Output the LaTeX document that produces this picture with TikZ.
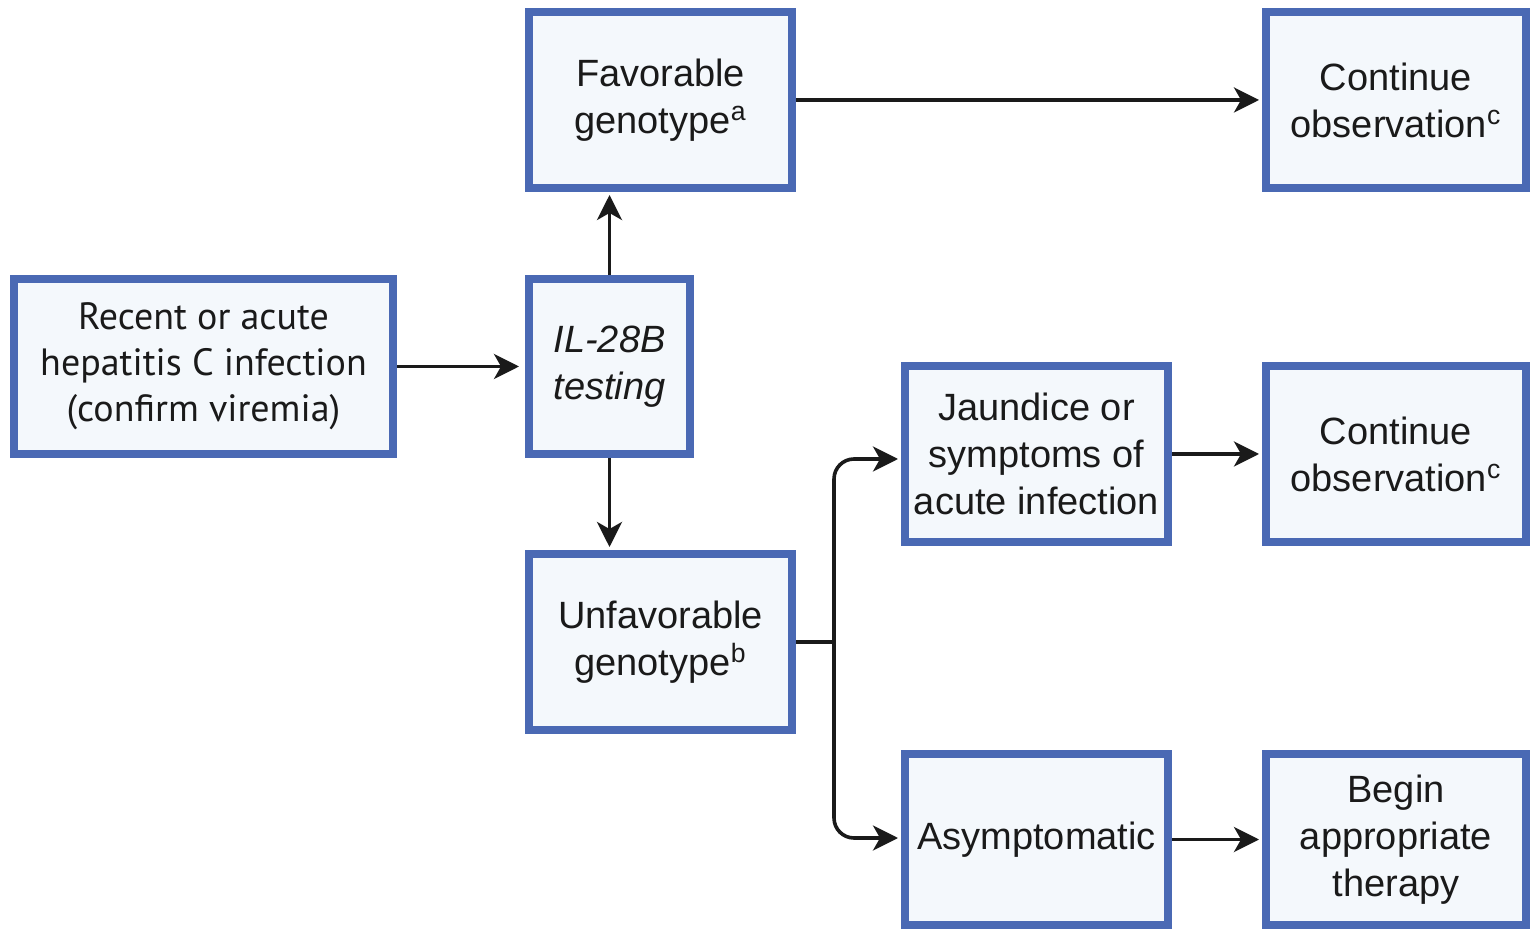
\documentclass[tikz,border=0pt]{standalone}
\usepackage{fontspec}
\setmainfont{Liberation Sans}
\newfontfamily\myriad{PT Sans}
\usetikzlibrary{arrows.meta,calc}
\definecolor{bblue}{HTML}{4A69B4}
\definecolor{bfill}{HTML}{F4F8FC}
\definecolor{ink}{HTML}{1A1A1A}
\begin{document}
\begin{tikzpicture}[x=0.5pt,y=-0.5pt,
  box/.style={draw=bblue,fill=bfill,line width=4pt,inner sep=0pt,align=center,text=ink,
    font=\fontsize{19}{23.5}\selectfont},
  wbox/.style={box,minimum width=131.5pt,minimum height=88pt},
  cbox/.style={box,minimum width=130pt,minimum height=88pt},
  arr/.style={draw=ink,line width=1.8pt,-{Stealth[length=12.5pt,width=12.5pt,inset=3.5pt]},
    shorten >=1.5pt},
  ln/.style={draw=ink,line width=1.8pt}]
\fill[white] (0,0) rectangle (1530,929);
\useasboundingbox (0,0) rectangle (1530,929);

\node[box,minimum width=189.5pt,minimum height=87.5pt,
  font=\myriad\fontsize{19}{23}\selectfont] (rec) at (203.5,366.5)
  {Recent or acute\\hepatitis C infection\\(confirm viremia)};
\node[box,minimum width=80.5pt,minimum height=87.5pt] (il) at (609.5,366.5)
  {\itshape IL-28B\\\itshape testing};
\node[wbox] (fav) at (660.5,100) {Favorable\\genotype\textsuperscript{a}};
\node[wbox] (unf) at (660.5,642) {Unfavorable\\genotype\textsuperscript{b}};
\node[cbox] (c1) at (1396,100) {Continue\\observation\textsuperscript{c}};
\node[wbox] (jau) at (1036.5,454) {Jaundice or\\symptoms of\\acute infection};
\node[cbox] (c2) at (1396,454) {Continue\\observation\textsuperscript{c}};
\node[wbox,minimum height=85.5pt] (asy) at (1036.5,839.5) {Asymptomatic};
\node[cbox,minimum height=85.5pt] (beg) at (1396,839.5) {Begin\\appropriate\\therapy};

\coordinate (br) at ($(unf.east)+(38,0)$);
\coordinate (jin) at (901,459);
\coordinate (ain) at (901,838);

\draw[arr,shorten >=3pt] (rec.east) -- (il.west);
\draw[arr] (il.north) -- (il.north |- fav.south);
\draw[arr] (il.south) -- (il.south |- unf.north);
\draw[arr] (fav.east) -- (c1.west);
\draw[arr] (jau.east) -- (c2.west);
\draw[arr] (asy.east) -- (beg.west);
\draw[arr,rounded corners=10pt] (br) |- (jin);
\draw[arr,rounded corners=10pt] (br) |- (ain);
\draw[ln,shorten >=-0.9pt] (unf.east) -- (br);
\end{tikzpicture}
\end{document}
